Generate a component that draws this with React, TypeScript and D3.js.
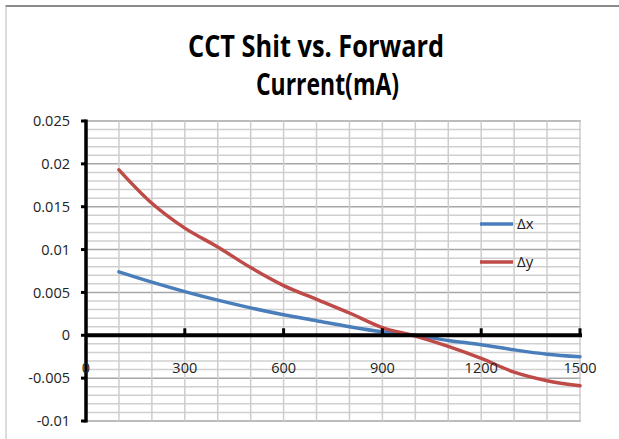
import React from "react";
import * as d3 from "d3";

const currents = [100, 200, 300, 400, 500, 600, 700, 800, 900, 1000, 1100, 1200, 1300, 1400, 1500];
const deltaX = [0.0074, 0.0062, 0.0051, 0.0041, 0.0032, 0.0024, 0.0017, 0.0010, 0.0004, 0.0000, -0.0006, -0.0011, -0.0017, -0.0022, -0.0025];
const deltaY = [0.0193, 0.0154, 0.0125, 0.0103, 0.0079, 0.0058, 0.0042, 0.0026, 0.0009, -0.0001, -0.0013, -0.0027, -0.0043, -0.0053, -0.0059];
const seriesNames = ["Δx", "Δy"];
const seriesColors = ["#4a7ebb", "#be4b48"];
const xTicks = [0, 300, 600, 900, 1200, 1500];
const yTicks = [0.025, 0.02, 0.015, 0.01, 0.005, 0, -0.005, -0.01];
const titleLines = ["CCT Shit vs. Forward", "Current(mA)"];

export default function App() {
  const W = 619, H = 439;
  const x = d3.scaleLinear().domain([0, 1500]).range([86, 580]);
  const y = d3.scaleLinear().domain([-0.01, 0.025]).range([421, 121]);
  const minorX = d3.range(100, 1501, 100);
  const minorY = d3.range(-10, 26, 1).map((v) => v / 1000);
  const line = d3
    .line<number>()
    .x((_, i) => x(currents[i]))
    .y((d) => y(d))
    .curve(d3.curveCatmullRom.alpha(0.5));
  const font = "'Open Sans', 'Liberation Sans', sans-serif";
  const series = [deltaX, deltaY];
  return (
    <svg width={W} height={H} style={{ position: "absolute", left: 0, top: 0, background: "#fff" }}>
      <rect x={0} y={0} width={W} height={H} fill="#fff" />
      <line x1={5.5} y1={6} x2={W} y2={6} stroke="#8a8a8a" strokeWidth={2} />
      <line x1={6} y1={6} x2={6} y2={H} stroke="#b8b8b8" strokeWidth={1} />
      {titleLines.map((t, i) => (
        <text
          key={t}
          x={i === 0 ? 188 : 256}
          y={i === 0 ? 57 : 95}
          fontFamily={font}
          fontWeight="bold"
          fontSize={31}
          textLength={i === 0 ? 256 : 143}
          lengthAdjust="spacingAndGlyphs"
          fill="#000"
        >
          {t}
        </text>
      ))}
      {minorY.map((v) => {
        const major = Math.abs(Math.round(v * 1000)) % 5 === 0;
        return (
          <line
            key={"hy" + v}
            x1={86}
            x2={581}
            y1={y(v)}
            y2={y(v)}
            stroke={major ? "#a6a6a6" : "#d0d0d0"}
            strokeWidth={1.5}
          />
        );
      })}
      {minorX.map((v) => (
        <line key={"vx" + v} x1={x(v)} x2={x(v)} y1={121} y2={421} stroke="#cdcdcd" strokeWidth={1.5} />
      ))}
      {series.map((s, i) => (
        <path key={"s" + i} d={line(s) || ""} fill="none" stroke={seriesColors[i]} strokeWidth={3.5} strokeLinecap="round" />
      ))}
      <line x1={86} x2={86} y1={119.5} y2={422.5} stroke="#000" strokeWidth={3.5} />
      {yTicks.map((v) => (
        <g key={"yt" + v}>
          <line x1={81} x2={86} y1={y(v)} y2={y(v)} stroke="#000" strokeWidth={3} />
          <text x={70} y={y(v)} dy="0.35em" textAnchor="end" fontFamily={font} fontSize={14.5} fill="#222">
            {v}
          </text>
        </g>
      ))}
      <line x1={86} x2={582} y1={y(0)} y2={y(0)} stroke="#000" strokeWidth={4} />
      {xTicks.map((v) => (
        <g key={"xt" + v}>
          {v > 0 && <line x1={x(v)} x2={x(v)} y1={y(0)} y2={y(0) - 7} stroke="#000" strokeWidth={3} />}
          <text x={x(v)} y={368} dy="0.35em" textAnchor="middle" fontFamily={font} fontSize={14.5} fill="#222">
            {v}
          </text>
        </g>
      ))}
      {seriesNames.map((n, i) => (
        <g key={"lg" + n}>
          <line x1={480} x2={513} y1={224 + i * 38} y2={224 + i * 38} stroke={seriesColors[i]} strokeWidth={3.5} />
          <text x={517} y={224 + i * 38} dy="0.35em" fontFamily={font} fontSize={15} fill="#222">
            {n}
          </text>
        </g>
      ))}
    </svg>
  );
}
